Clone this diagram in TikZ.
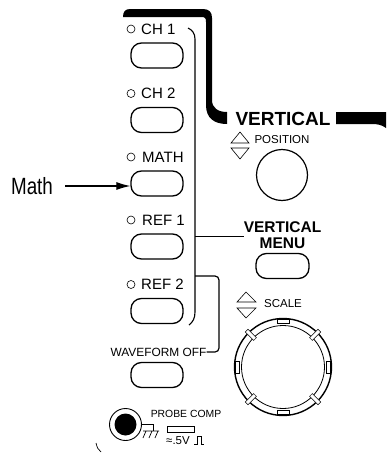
\documentclass[tikz,border=0pt]{standalone}
\usepackage{fontspec}
\setmainfont{Liberation Sans}
\usepackage{tikz}
\usetikzlibrary{calc, positioning, arrows.meta}
\tikzset{
    button/.style={rectangle, draw=black, line width=1.3pt, rounded corners=10.5pt, minimum width=52pt, minimum height=25pt, inner sep=0pt},
    led/.style={circle, draw=black, line width=0.6pt, minimum size=8pt, inner sep=0pt},
    panel/.style={font=\fontsize{15}{15}\selectfont, inner sep=0pt, anchor=west},
    small/.style={font=\fontsize{11.5}{11.5}\selectfont, inner sep=0pt},
    heading/.style={font=\fontsize{19}{19}\selectfont\bfseries, inner sep=0pt},
    knob/.style={circle, draw=black, inner sep=0pt},
    wire/.style={line width=1.2pt, rounded corners=4pt},
    notch/.style={rectangle, draw=black, line width=0.5pt, fill=white, minimum width=12pt, minimum height=4pt, inner sep=0pt},
    arrow/.style={-{Latex[length=14pt,width=8pt]}, line width=1.1pt}
}
\begin{document}
\begin{tikzpicture}[x=1pt, y=-1pt]
    \useasboundingbox (0,0) rectangle (386,453);

    % heavy rule
    \fill (123,17) .. controls (123,12) and (125,9) .. (130,9) -- (203,9)
        .. controls (209,9) and (212,12) .. (212,18) -- (212,100)
        .. controls (212,108) and (218,112) .. (227,112) -- (227,124)
        .. controls (214,124) and (206,118) .. (206,105) -- (206,22)
        .. controls (206,18) and (205,17) .. (201,17) -- cycle;
    \fill (336,112) -- (386,112) -- (386,128) .. controls (382,125) and (378,124) .. (372,124) -- (336,124) -- cycle;

    % channel buttons
    \foreach \name/\txt/\y/\tx in {chA/CH 1/55.5/141, chB/CH 2/120/141, math/MATH/183.5/142, refA/REF 1/246.5/142, refB/REF 2/311/141} {
        \node[button] (\name) at (157,\y) {};
        \node[led] (\name Led) at (131,\y-26.5) {};
        \node[panel] (\name Text) at (\tx,\y-26.5) {\txt};
    }
    \node[small, font=\fontsize{11.9}{12}\selectfont] (offText) at (158.5,352) {WAVEFORM OFF};
    \node[button] (off) at (157,375) {};

    % bracket
    \coordinate (top) at (188,28);
    \coordinate (bottom) at (189,325);
    \coordinate (menuJoin) at (195,236.5);
    \coordinate (refJoin) at (195,276);
    \draw[line width=1.1pt] (top) .. controls (192,30) and (195,33) .. (195,39) -- (195,312) .. controls (195,318) and (193,322) .. (bottom);
    \node[heading, font=\fontsize{15.5}{16}\selectfont\bfseries, align=center] (menuText) at (282.5,235.5) {VERTICAL\\MENU};
    \draw[wire] (menuJoin) -- (menuText.west |- menuJoin);
    \draw[wire] (refJoin) -- (219,276) -- (219,352) -- (offText.east);

    % vertical section
    \node[heading] (vertical) at (283,118.5) {VERTICAL};
    \node[small] (position) at (282,140) {POSITION};
    \node[knob, line width=1.2pt, minimum size=51pt] (posKnob) at (282,175) {};
    \node[button, minimum width=53pt] (menu) at (282.5,266) {};
    \draw[line width=0.6pt] (231,143) -- (240,132) -- (249,143) -- cycle (231,148) -- (240,159) -- (249,148) -- cycle;

    % scale knob
    \node[small] (scale) at (283,304) {SCALE};
    \draw[line width=0.6pt] (237,302) -- (246,292) -- (256,302) -- cycle (237,308) -- (246,318) -- (256,308) -- cycle;
    \node[knob, line width=1.4pt, minimum size=97pt] (scaleKnob) at (283,367) {};
    \node[knob, line width=0.8pt, minimum size=83pt] (scaleInner) at (283,367) {};
    \foreach \a in {0,45,...,315}
        \node[notch, rotate=\a+90] at ($(scaleKnob.center)+(\a:45.5)$) {};

    % callout
    \node[font=\fontsize{23.5}{24}\selectfont, inner sep=0pt, xscale=0.8, transform shape] (mathLabel) at (32,186) {Math};
    \draw[arrow] (65,186) -- (math.west |- 65,186);

    % probe comp
    \node[knob, line width=0.9pt, minimum size=32pt] (probe) at (125.5,424.5) {};
    \node[circle, fill=black, minimum size=22pt, inner sep=0pt] (probeCore) at (probe.center) {};
    \draw[line width=0.7pt] (probe.east) -- (153,424.5) -- (153,431);
    \draw[line width=0.7pt] (143,431) -- (159,431) (146,431) -- (143,438) (152,431) -- (149,438) (158,431) -- (155,438);
    \node[small, font=\fontsize{10.4}{11}\selectfont] (probeText) at (186,414) {PROBE COMP};
    \draw[line width=0.7pt] (167,426) rectangle (194,432);
    \node[small, font=\fontsize{11.5}{12}\selectfont, anchor=west] (levelText) at (166,441) {≈.5V};
    \draw[line width=0.7pt] (194,444) -- (197,444) -- (197,436) -- (201,436) -- (201,444) -- (204,444);
    \draw[line width=0.7pt] (96,443) .. controls (97,447) and (98,450) .. (101,452);
\end{tikzpicture}
\end{document}
